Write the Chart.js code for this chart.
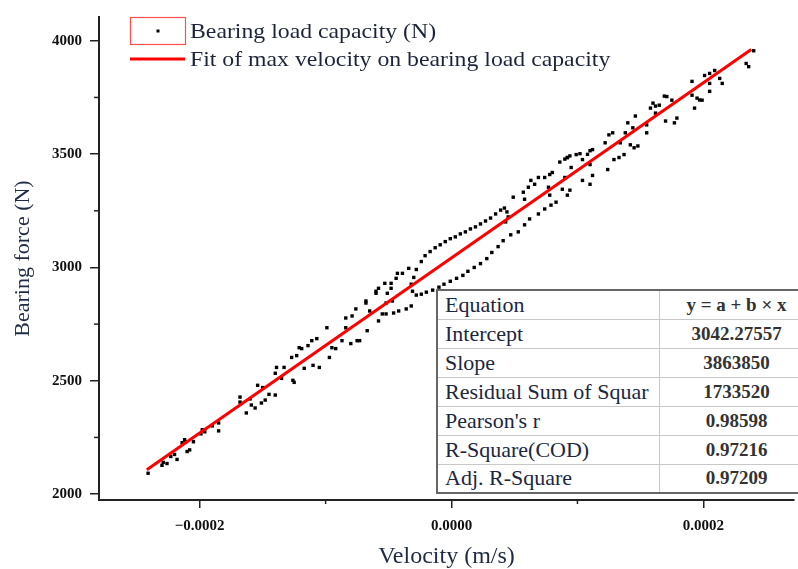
<!DOCTYPE html>
<html>
<head>
<meta charset="utf-8">
<script src="https://cdn.jsdelivr.net/npm/chart.js@4.4.0/dist/chart.umd.min.js"></script>
<style>
body{margin:0;background:#fff;}
#wrap{position:relative;width:798px;height:569px;overflow:hidden;}
#stats{position:absolute;left:436px;top:289px;width:376px;table-layout:fixed;border-collapse:collapse;border:2px solid #666;background:#fff;font-family:"Liberation Serif",serif;}
#stats tr{height:29px;}
#stats td{padding:0;border:1px solid #c8c8c8;white-space:nowrap;overflow:hidden;}
#stats td.k{width:214px;padding-left:7px;font-size:22px;color:#1c2740;}
#stats td.v{width:153px;text-align:center;font-size:19px;font-weight:bold;color:#333;}
</style>
</head>
<body>
<div id="wrap">
  <canvas id="mycanvas"></canvas>
  <table id="stats"></table>
</div>
<script>
// velocity in µm/s, force in N
var velocity = [-241,-230,-229,-226,-223,-220,-218,-214,-212,-211,-210,-208,-205,-199,-198,-196,-190,-185,-185,
  -168,-168,-163,-160,-159,-156,-154,-151,-150,-148,-145,-140,-140,-139,-133,-135,-126,-125,-127,-123,
  -121,-119,-117,-114,-111,-110,-107,-105,-99,-97,-95,-92,-87,-84,-84,-80,-79,-76,-75,-73,
  -68,-68,-67,-65,-60,-60,-58,-58,-55,-53,-52,-51,-52,-48,-48,-47,-46,-44,-43,-42,-39,-36,-34,-32,
  // loop, upper branch
  -32,-30,-28,-24,-21,-17,-13,-9,-5,-1,3,7,11,15,19,23,27,31,35,39,42,44,45,43,
  // loop, lower branch
  -31,-28,-24,-20,-15,-10,-6,-1,4,9,13,18,23,28,32,37,41,
  // right of the loop
  47,53,58,62,69,74,79,83,
  49,57,58,61,66,63,69,74,77,78,78,80,86,88,90,90,92,92,94,94,95,
  92,99,102,104,104,108,110,110,112,110,112,124,122,125,128,129,133,137,134,138,140,142,145,148,146,144,
  155,155,158,160,162,165,162,169,171,170,177,179,175,191,191,193,195,197,199,201,205,209,205,205,213,215,
  234,236,240];
var force = [2092,2127,2140,2135,2166,2175,2153,2227,2240,2231,2188,2195,2231,2266,2284,2275,2301,2314,2279,
  2428,2406,2358,2420,2393,2380,2480,2402,2470,2415,2440,2437,2533,2559,2559,2511,2502,2493,2603,2611,
  2646,2642,2555,2655,2677,2568,2686,2559,2734,2603,2646,2642,2677,2777,2734,2664,2786,2817,2677,2677,
  2843,2852,2721,2808,2886,2895,2764,2908,2795,2930,2843,2886,2795,2930,2908,2852,2799,2952,2974,2808,2974,2817,2996,2830,
  2926,2956,2991,3026,3052,3070,3087,3100,3114,3127,3135,3148,3157,3170,3179,3192,3205,3218,3236,3253,3262,3245,3223,3201,
  2895,2878,2882,2891,2900,2913,2926,2939,2952,2965,2983,3000,3017,3039,3066,3092,3118,
  3144,3157,3188,3214,3236,3258,3275,3288,
  3310,3332,3301,3354,3367,3384,3397,3397,3354,3410,3319,3419,3465,3345,3397,3478,3319,3485,3341,3492,3441,
  3485,3498,3502,3476,3384,3499,3367,3515,3520,3454,3406,3432,3550,3585,3594,3476,3485,3498,3550,3594,3638,3541,3528,3536,3668,3616,
  3594,3629,3703,3725,3712,3716,3681,3756,3754,3646,3638,3659,3738,3821,3760,3703,3747,3739,3738,3847,3856,3869,3812,3777,3834,3812,
  3900,3886,3956];
var fitVelocity = [-242, 238];
var fitForce = [2107, 3962];

var yTicks = [2000, 2500, 3000, 3500, 4000];
var yMinor = [2250, 2750, 3250, 3750];
var xTicks = [-0.0002, 0, 0.0002];
var xTickLabels = ['\u22120.0002', '0.0000', '0.0002'];
var xMinor = [-0.0001, 0.0001];

var legendLabels = ['Bearing load capacity (N)', 'Fit of max velocity on bearing load capacity'];
var statLabels = ['Equation', 'Intercept', 'Slope', 'Residual Sum of Squar', "Pearson's r", 'R-Square(COD)', 'Adj. R-Square'];
var statValues = ['y = a + b \u00d7 x', '3042.27557', '3863850', '1733520', '0.98598', '0.97216', '0.97209'];

var points = [];
for (var i in velocity) {
    points.push({x: velocity[i] * 1e-6, y: force[i]});
}
var fit = [];
for (var j in fitVelocity) {
    fit.push({x: fitVelocity[j] * 1e-6, y: fitForce[j]});
}

var rows = '';
for (var k in statLabels) {
    rows += '<tr><td class="k">' + statLabels[k] + '</td><td class="v">' + statValues[k] + '</td></tr>';
}
document.getElementById('stats').innerHTML = rows;

var serif = '"Liberation Serif", "Times New Roman", serif';

var extras = {
    id: 'extras',
    afterDraw: function(chart) {
        var ctx = chart.ctx, xs = chart.scales.x, ys = chart.scales.y, a = chart.chartArea;
        ctx.save();
        // minor ticks
        ctx.strokeStyle = '#222';
        ctx.lineWidth = 1.5;
        yMinor.forEach(function(v) {
            var p = ys.getPixelForValue(v);
            ctx.beginPath(); ctx.moveTo(a.left - 5, p); ctx.lineTo(a.left, p); ctx.stroke();
        });
        xMinor.forEach(function(v) {
            var p = xs.getPixelForValue(v);
            ctx.beginPath(); ctx.moveTo(p, a.bottom); ctx.lineTo(p, a.bottom + 4); ctx.stroke();
        });
        // legend
        ctx.strokeStyle = '#ff5050';
        ctx.lineWidth = 1.2;
        ctx.strokeRect(130.5, 17.5, 55, 27);
        ctx.fillStyle = '#000';
        ctx.fillRect(156.5, 29.5, 3, 3);
        ctx.strokeStyle = '#ff0000';
        ctx.lineWidth = 3;
        ctx.beginPath(); ctx.moveTo(130, 59); ctx.lineTo(185, 59); ctx.stroke();
        ctx.fillStyle = '#1c2438';
        ctx.font = '22px ' + serif;
        ctx.textBaseline = 'middle';
        ctx.translate(190, 0);
        ctx.scale(1.08, 1);
        ctx.fillText(legendLabels[0], 0, 32);
        ctx.fillText(legendLabels[1], 0, 60);
        ctx.restore();
    }
};

var ctx = document.getElementById('mycanvas');

var ScatterGraph = new Chart(ctx, {
    type: 'scatter',
    data: {
        datasets: [{
            label: legendLabels[1],
            data: fit,
            showLine: true,
            borderColor: '#ff0000',
            borderWidth: 3,
            pointRadius: 0,
            order: 0
        }, {
            label: legendLabels[0],
            data: points,
            pointStyle: 'rect',
            pointRadius: 2.4,
            pointBorderWidth: 0,
            backgroundColor: '#000',
            borderColor: '#000',
            order: 1
        }]
    },
    options: {
        responsive: true,
        maintainAspectRatio: false,
        animation: false,
        layout: {padding: {top: 13, right: 0, left: 0, bottom: 0}},
        plugins: {legend: {display: false}, tooltip: {enabled: false}},
        scales: {
            x: {
                type: 'linear',
                min: -0.00028,
                max: 0.000272,
                afterBuildTicks: function(s) { s.ticks = xTicks.map(function(v) { return {value: v}; }); },
                afterFit: function(s) { s.height = 69; },
                ticks: {
                    callback: function(v, i) { return xTickLabels[i]; },
                    font: {family: serif, size: 15, weight: 'bold'},
                    color: '#111',
                    padding: 9,
                    maxRotation: 0,
                    autoSkip: false
                },
                grid: {drawOnChartArea: false, tickLength: 8, color: '#222', lineWidth: 1.5},
                border: {color: '#222', width: 2},
                title: {display: true, text: 'Velocity (m/s)', font: {family: serif, size: 24, lineHeight: 1.0}, color: '#1f2a44', padding: {top: 0, bottom: 0}}
            },
            y: {
                type: 'linear',
                min: 1974,
                max: 4105,
                afterBuildTicks: function(s) { s.ticks = yTicks.map(function(v) { return {value: v}; }); },
                afterFit: function(s) { s.width = 99; },
                ticks: {
                    callback: function(v) { return String(v); },
                    font: {family: serif, size: 15, weight: 'bold'},
                    color: '#111',
                    padding: 8,
                    autoSkip: false
                },
                grid: {drawOnChartArea: false, tickLength: 9, color: '#222', lineWidth: 1.5},
                border: {color: '#222', width: 2},
                title: {display: true, text: 'Bearing force (N)', font: {family: serif, size: 22}, color: '#1f2a44', padding: {top: 10, bottom: 0}}
            }
        }
    },
    plugins: [extras]
});
</script>
</body>
</html>
